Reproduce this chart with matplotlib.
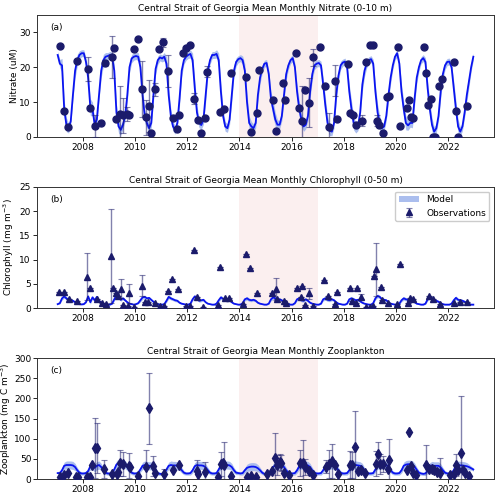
import matplotlib
matplotlib.use('Agg')
import matplotlib.pyplot as plt
import numpy as np

# model monthly means, one row per year 2007..2022 (Jan..Dec)
years = list(range(2007, 2023))

nitrate_model = [
    23.5, 21.0, 20.5, 8.0, 3.5, 2.5, 4.5, 12.0, 19.0, 22.0, 23.5, 24.0,
    24.0, 21.5, 17.0, 8.5, 8.0, 3.5, 5.0, 12.0, 19.0, 22.0, 23.0, 23.2,
    23.5, 23.0, 19.0, 7.0, 3.0, 2.0, 3.5, 6.0, 12.0, 20.0, 22.5, 23.0,
    23.2, 23.0, 20.0, 12.0, 6.0, 4.0, 2.5, 4.0, 12.0, 19.5, 22.0, 22.8,
    22.5, 23.0, 21.0, 12.0, 6.0, 3.0, 2.0, 4.0, 11.0, 19.0, 22.0, 23.0,
    23.5, 23.8, 22.0, 14.0, 7.0, 4.0, 3.4, 5.0, 12.0, 19.0, 22.0, 23.5,
    23.5, 23.8, 22.0, 13.0, 6.0, 3.0, 2.5, 5.0, 12.0, 19.0, 21.5, 22.3,
    22.6, 22.0, 19.0, 10.0, 4.0, 3.0, 2.5, 4.0, 12.0, 17.0, 19.5, 21.0,
    21.2, 18.0, 11.0, 8.0, 5.0, 3.5, 3.5, 6.0, 12.0, 18.0, 20.5, 22.0,
    22.6, 20.0, 13.0, 8.0, 5.0, 3.0, 3.5, 6.0, 13.0, 18.0, 20.5, 21.0,
    21.2, 20.5, 15.0, 9.0, 4.0, 1.8, 1.5, 4.0, 12.0, 17.5, 20.5, 21.3,
    21.6, 20.0, 13.0, 8.0, 4.0, 2.5, 3.0, 7.0, 15.0, 19.0, 21.0, 22.0,
    22.3, 21.0, 13.0, 7.0, 4.0, 2.5, 3.0, 6.0, 12.0, 17.0, 20.5, 23.0,
    24.0, 21.0, 13.0, 8.0, 4.0, 3.3, 4.0, 4.0, 11.0, 17.0, 20.0, 22.0,
    22.6, 21.5, 14.0, 8.0, 3.5, 1.5, 2.5, 6.0, 13.0, 18.0, 20.5, 21.5,
    21.6, 20.0, 14.0, 8.0, 3.0, 1.5, 3.0, 7.0, 12.0, 16.0, 20.0, 23.0,
]
nitrate_spread = [1.0, 1.2, 2.0, 2.4, 2.0, 1.4, 1.2, 1.4, 2.0, 1.7, 1.2, 1.0]

chl_model = [
    0.8, 1.0, 2.0, 2.4, 2.0, 1.7, 1.6, 1.5, 1.2, 0.9, 0.8, 0.75,
    0.8, 1.2, 2.4, 1.2, 2.2, 1.6, 2.3, 1.4, 1.2, 0.9, 0.8, 0.7,
    0.7, 0.9, 1.8, 2.6, 2.2, 1.7, 2.0, 1.6, 1.2, 0.9, 0.8, 0.7,
    0.8, 1.0, 1.6, 2.2, 2.3, 2.0, 2.1, 1.7, 1.3, 0.9, 0.8, 0.7,
    0.7, 0.8, 1.5, 2.3, 2.0, 1.8, 1.6, 1.5, 1.1, 0.9, 0.8, 0.7,
    0.7, 0.9, 1.8, 2.4, 2.0, 1.5, 1.6, 1.7, 1.2, 0.9, 0.8, 0.7,
    0.7, 0.9, 1.6, 2.2, 1.9, 1.7, 1.6, 1.6, 1.2, 0.9, 0.8, 0.7,
    0.7, 1.0, 1.8, 2.0, 1.7, 1.6, 1.7, 1.5, 1.1, 0.9, 0.8, 0.7,
    0.7, 0.9, 1.8, 2.2, 2.0, 1.7, 1.8, 1.6, 1.2, 0.9, 0.8, 0.7,
    0.7, 1.0, 1.8, 2.0, 1.6, 1.5, 1.8, 1.5, 1.1, 0.9, 0.8, 0.7,
    0.7, 0.9, 1.8, 2.0, 1.7, 1.6, 1.8, 1.6, 1.2, 0.9, 0.8, 0.7,
    0.7, 0.9, 1.8, 2.0, 1.8, 1.6, 1.7, 1.4, 1.1, 0.9, 0.8, 0.7,
    0.7, 1.0, 2.0, 2.5, 2.3, 1.8, 1.7, 1.6, 1.2, 0.9, 0.8, 0.7,
    0.7, 0.9, 1.6, 2.0, 1.8, 1.7, 1.9, 1.6, 1.2, 0.9, 0.8, 0.7,
    0.7, 0.9, 1.8, 2.3, 2.0, 1.6, 1.5, 1.3, 1.0, 0.8, 0.7, 0.7,
    0.7, 0.9, 1.6, 2.1, 1.7, 1.6, 1.5, 1.3, 1.0, 0.8, 0.7, 0.7,
]
chl_spread = [0.1, 0.15, 0.35, 0.4, 0.35, 0.3, 0.3, 0.25, 0.2, 0.12, 0.1, 0.1]

zoo_model = [
    15, 15, 22, 33, 35, 35, 35, 34, 30, 22, 16, 14,
    14, 15, 20, 32, 33, 28, 33, 35, 30, 22, 16, 14,
    14, 15, 24, 36, 40, 38, 38, 36, 30, 22, 16, 14,
    14, 16, 24, 33, 35, 34, 33, 33, 30, 22, 15, 13,
    13, 15, 24, 33, 35, 34, 34, 33, 30, 22, 16, 14,
    14, 15, 22, 32, 35, 34, 34, 33, 29, 22, 16, 14,
    14, 15, 24, 34, 36, 35, 35, 34, 30, 22, 16, 15,
    14, 15, 22, 28, 30, 31, 31, 30, 27, 22, 16, 13,
    12, 14, 20, 30, 34, 35, 35, 34, 30, 22, 16, 14,
    14, 15, 22, 32, 35, 35, 35, 34, 30, 22, 16, 14,
    14, 15, 22, 32, 35, 35, 35, 34, 30, 22, 16, 14,
    14, 15, 22, 32, 35, 35, 34, 33, 30, 22, 16, 14,
    14, 15, 24, 34, 36, 36, 36, 35, 30, 22, 16, 14,
    14, 15, 22, 33, 36, 37, 37, 36, 31, 23, 16, 14,
    13, 14, 21, 32, 34, 33, 33, 33, 29, 22, 16, 14,
    14, 15, 22, 33, 35, 34, 34, 33, 32, 30, 27, 24,
]
zoo_spread = [4, 5, 7, 9, 10, 10, 10, 10, 9, 7, 5, 4]

# observations: decimal year, value, error
no3_t = [2007.12, 2007.27, 2007.44, 2007.79, 2008.19, 2008.27, 2008.46, 2008.70, 2008.84,
         2009.12, 2009.18, 2009.27, 2009.44, 2009.53, 2009.69, 2009.79, 2009.95, 2010.11,
         2010.27, 2010.43, 2010.52, 2010.61, 2010.78, 2010.94, 2011.09, 2011.28, 2011.45,
         2011.60, 2011.69, 2011.83, 2011.95, 2012.11, 2012.26, 2012.43, 2012.52, 2012.68,
         2012.77, 2013.26, 2013.42, 2013.68, 2014.25, 2014.43, 2014.68, 2014.76, 2015.27,
         2015.42, 2015.67, 2015.75, 2016.18, 2016.28, 2016.41, 2016.50, 2016.66, 2016.82,
         2017.07, 2017.26, 2017.43, 2017.65, 2017.73, 2018.15, 2018.24, 2018.34, 2018.45,
         2018.69, 2018.86, 2019.01, 2019.11, 2019.26, 2019.36, 2019.49, 2019.64, 2019.72,
         2020.08, 2020.15, 2020.40, 2020.48, 2020.57, 2020.66, 2021.08, 2021.14, 2021.23,
         2021.34, 2021.40, 2021.49, 2021.65, 2021.76, 2022.23, 2022.31, 2022.39, 2022.73]
no3_v = [26.2, 7.3, 2.8, 21.8, 19.4, 8.2, 3.2, 4.0, 21.2,
         23.0, 25.5, 5.2, 6.5, 6.2, 6.5, 6.2, 25.1, 28.2,
         13.8, 5.6, 8.8, 1.2, 13.6, 25.1, 27.1, 18.9, 5.4,
         2.2, 6.2, 24.2, 25.5, 26.3, 11.0, 4.8, 1.0, 5.4,
         18.7, 7.2, 8.0, 18.3, 17.2, 1.3, 6.8, 19.2, 10.6,
         1.8, 15.6, 10.6, 24.0, 8.2, 4.7, 13.5, 9.8, 22.8,
         25.7, 14.6, 2.8, 16.1, 5.1, 20.9, 6.8, 6.3, 3.4,
         4.7, 21.4, 26.3, 26.3, 4.7, 3.4, 1.0, 11.5, 11.7,
         25.7, 3.0, 8.2, 10.6, 5.6, 5.3, 25.7, 18.2, 9.2,
         10.8, 0.1, 0.1, 14.7, 16.6, 21.4, 7.3, 0.1, 9.0]
no3_e = [0, 0, 0, 0, 3.4, 0, 3.2, 0, 0.8,
         6.0, 0, 0, 8.0, 5.0, 2.0, 0, 0, 0,
         8.0, 5.0, 7.5, 0, 2.0, 0, 1.2, 4.5, 0,
         0, 0, 0, 0, 0, 1.5, 0, 0, 0,
         1.5, 0, 0, 0, 0, 0, 0, 0, 0,
         0, 0, 0, 0, 0, 10.0, 0, 7.0, 2.5,
         0, 0, 4.0, 4.5, 0, 0, 0, 0, 0,
         1.5, 0, 0, 0, 1.5, 0, 0, 0, 0,
         0, 0, 0, 0, 0, 0, 0, 0, 0,
         0, 0, 0, 0, 0, 0, 0, 0, 0]

chl_t = [2007.11, 2007.27, 2007.47, 2007.79, 2008.17, 2008.27, 2008.55, 2008.72, 2008.90,
         2009.08, 2009.15, 2009.27, 2009.35, 2009.47, 2009.55, 2009.72, 2009.76, 2009.95,
         2010.27, 2010.40, 2010.50, 2010.75, 2010.95, 2011.10, 2011.28, 2011.43, 2011.66,
         2011.95, 2012.10, 2012.26, 2012.37, 2012.60, 2013.19, 2013.26, 2013.45, 2013.62,
         2014.14, 2014.25, 2014.40, 2014.66, 2015.23, 2015.42, 2015.44, 2015.72, 2015.80,
         2016.22, 2016.35, 2016.41, 2016.50, 2016.65, 2016.83, 2017.25, 2017.39, 2017.68,
         2017.75, 2018.24, 2018.30, 2018.45, 2018.50, 2018.64, 2018.85, 2019.00, 2019.10,
         2019.15, 2019.24, 2019.43, 2019.46, 2019.68, 2020.05, 2020.15, 2020.44, 2020.53,
         2020.63, 2021.27, 2021.42, 2021.68, 2022.23, 2022.43, 2022.73]
chl_v = [3.3, 3.3, 1.8, 1.4, 6.5, 4.1, 1.9, 1.1, 0.9,
         10.8, 4.1, 3.0, 2.5, 4.0, 0.6, 0.5, 3.0, 0.3,
         4.6, 1.3, 1.3, 1.0, 0.4, 0.4, 3.6, 6.0, 4.0,
         0.4, 0.4, 12.0, 2.3, 0.3, 0.6, 8.4, 2.0, 2.0,
         0.8, 11.2, 8.3, 3.0, 3.0, 3.9, 1.8, 1.4, 1.0,
         4.1, 2.3, 4.6, 0.7, 3.0, 0.4, 5.8, 2.5, 0.8,
         3.4, 4.1, 1.5, 1.0, 4.1, 2.3, 0.3, 0.3, 0.5,
         6.6, 8.0, 4.4, 1.6, 1.0, 0.8, 9.0, 1.1, 2.0,
         1.8, 2.5, 1.9, 0.8, 1.0, 1.2, 1.2]
chl_e = [0, 0, 0, 0, 4.8, 0, 0, 0, 0,
         9.7, 0, 0, 0, 1.9, 0, 0, 1.9, 0,
         2.2, 0, 0, 0, 0, 0, 0, 0, 0,
         0, 0, 0, 0, 0, 0, 0, 0, 0,
         0, 0, 0, 0, 0, 2.3, 0, 0, 0,
         0, 0, 0, 0, 1.1, 0, 0, 0, 0,
         0, 0, 0, 0, 0, 0.5, 0, 0, 0,
         0, 5.5, 0, 0, 0, 0, 0, 0, 0,
         0, 0, 0, 0, 0, 0, 0]

zoo_t = [2007.12, 2007.27, 2007.44, 2007.74, 2007.83, 2008.17, 2008.27, 2008.36, 2008.46,
         2008.56, 2008.83, 2009.13, 2009.30, 2009.35, 2009.44, 2009.53, 2009.76, 2009.80,
         2010.10, 2010.43, 2010.52, 2010.70, 2010.78, 2011.10, 2011.45, 2011.69, 2012.37,
         2012.43, 2012.68, 2013.20, 2013.28, 2013.36, 2013.42, 2013.68, 2014.30, 2014.45,
         2014.65, 2015.05, 2015.26, 2015.35, 2015.45, 2015.55, 2015.60, 2015.70, 2015.90,
         2016.31, 2016.43, 2016.50, 2016.65, 2016.83, 2017.33, 2017.43, 2017.55, 2017.66,
         2017.76, 2018.22, 2018.30, 2018.41, 2018.55, 2018.65, 2018.80, 2019.24, 2019.30,
         2019.40, 2019.50, 2019.70, 2019.74, 2020.40, 2020.48, 2020.57, 2020.65, 2020.75,
         2021.15, 2021.28, 2021.38, 2021.45, 2021.55, 2021.70, 2022.05, 2022.20, 2022.31,
         2022.38, 2022.47, 2022.55, 2022.65, 2022.80]
zoo_v = [5, 11, 15, 5, 5, 5, 5, 35, 77,
         77, 25, 12, 12, 17, 40, 38, 33, 30,
         8, 30, 176, 33, 15, 12, 22, 36, 20,
         12, 18, 5, 38, 40, 35, 7, 5, 8,
         5, 13, 21, 52, 35, 42, 40, 15, 10,
         41, 41, 30, 20, 10, 31, 38, 45, 35,
         12, 36, 36, 79, 20, 22, 15, 38, 63,
         38, 38, 25, 48, 22, 118, 33, 14, 10,
         36, 25, 25, 22, 18, 15, 10, 12, 36,
         22, 66, 22, 15, 8]
zoo_e = [0, 0, 0, 0, 0, 0, 0, 0, 75,
         62, 22, 0, 0, 0, 32, 29, 31, 0,
         0, 43, 88, 25, 0, 13, 0, 0, 27,
         0, 24, 0, 30, 0, 58, 0, 0, 0,
         0, 0, 0, 62, 25, 20, 20, 0, 0,
         32, 55, 20, 0, 0, 17, 35, 42, 0,
         0, 34, 32, 91, 0, 0, 0, 31, 30,
         25, 20, 0, 51, 0, 0, 0, 0, 0,
         49, 0, 0, 0, 0, 37, 0, 0, 27,
         0, 141, 0, 0, 0]

# time axis for model (mid-month)
t_model = np.array([y + (m + 0.5) / 12. for y in years for m in range(12)])

navy = '#1b1b6b'
err_col = (0.11, 0.11, 0.42, 0.55)
band_col = '#9db3ec'

fig = plt.figure(figsize=(5.0, 4.96), dpi=100)
ax_a = fig.add_axes([0.074, 0.724, 0.914, 0.246])
ax_b = fig.add_axes([0.074, 0.379, 0.914, 0.244])
ax_c = fig.add_axes([0.074, 0.034, 0.914, 0.244])

panels = [
    (ax_a, nitrate_model, nitrate_spread, no3_t, no3_v, no3_e, 'o', 5,
     'Central Strait of Georgia Mean Monthly Nitrate (0-10 m)', 'Nitrate (uM)', 35, '(a)'),
    (ax_b, chl_model, chl_spread, chl_t, chl_v, chl_e, '^', 5,
     'Central Strait of Georgia Mean Monthly Chlorophyll (0-50 m)', 'Chlorophyll (mg m$^{-3}$)', 25, '(b)'),
    (ax_c, zoo_model, zoo_spread, zoo_t, zoo_v, zoo_e, 'd', 5,
     'Central Strait of Georgia Mean Monthly Zooplankton', 'Zooplankton (mg C m$^{-3}$)', 300, '(c)'),
]

for ax, mod, spread, ot, ov, oe, mk, ms, title, ylab, ymax, lab in panels:
    mod = np.array(mod, dtype=float)
    sp = np.tile(np.array(spread, dtype=float), len(years))
    ax.axvspan(2014.0, 2017.0, color='#fbeceb', alpha=0.8, lw=0, zorder=0)
    ax.fill_between(t_model, mod - sp, mod + sp, color=band_col, alpha=0.85, lw=0,
                    zorder=2, label='Model')
    ax.plot(t_model, mod, color='#0a14f0', lw=1.3, zorder=3)
    ax.errorbar(ot, ov, yerr=oe, fmt=mk, ms=ms, color=navy, mec=navy,
                ecolor=err_col, elinewidth=1, capsize=2, capthick=0.8, zorder=4,
                label='Observations')
    ax.set_xlim(2006.25, 2023.75)
    ax.set_ylim(0, ymax)
    ax.set_xticks(range(2008, 2024, 2))
    ax.tick_params(labelsize=6.5, length=3, width=0.6, pad=1.5)
    ax.set_title(title, fontsize=6.5, pad=3)
    ax.set_ylabel(ylab, fontsize=6.5)
    ax.text(0.03, 0.9, lab, transform=ax.transAxes, fontsize=6.5, va='center')
    for s in ax.spines.values():
        s.set_linewidth(0.7)
        s.set_color('#333333')

ax_c.tick_params(axis='y', pad=1)
ax_a.yaxis.set_label_coords(-0.04, 0.5)
ax_b.yaxis.set_label_coords(-0.045, 0.5)
ax_c.yaxis.set_label_coords(-0.052, 0.5)

ax_b.legend(loc='upper right', fontsize=6.5, framealpha=1.0, borderpad=0.4,
            handlelength=2.2, edgecolor='#cccccc')

fig.savefig('out.png', dpi=100)
